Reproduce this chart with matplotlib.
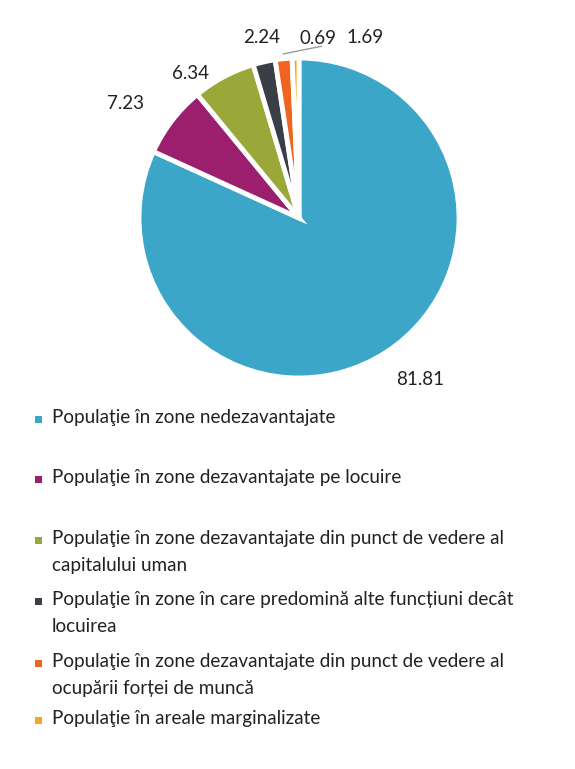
import matplotlib
matplotlib.use("Agg")
import matplotlib.pyplot as plt
from matplotlib.patches import Rectangle
import numpy as np

plt.rcParams['font.family'] = ['Lato', 'DejaVu Sans']

categories = [
    "Populaţie în zone nedezavantajate",
    "Populaţie în zone dezavantajate pe locuire",
    "Populaţie în zone dezavantajate din punct de vedere al\ncapitalului uman",
    "Populaţie în zone în care predomină alte funcțiuni decât\nlocuirea",
    "Populaţie în zone dezavantajate din punct de vedere al\nocupării forței de muncă",
    "Populaţie în areale marginalizate",
]
values = [81.81, 7.23, 6.34, 2.24, 1.69, 0.69]
value_labels = ["81.81", "7.23", "6.34", "2.24", "1.69", "0.69"]
colors = ["#3BA6C8", "#9C1F6D", "#9AA83A", "#3A3E47", "#EF6420", "#F5A51E"]

# label placement (polar: radius factor, angle in degrees) - layout only
label_pos = [(1.26, -53), (1.30, 146.5), (1.13, 127), (1.15, 101.6), (1.20, 70), (1.13, 84)]

fig = plt.figure(figsize=(5.75, 7.69), dpi=100)
ax = fig.add_axes([0.1026, 0.4044, 0.8348, 0.5826])
wedges, _ = ax.pie(values, colors=colors, startangle=90, counterclock=False,
                   wedgeprops=dict(edgecolor="white", linewidth=3.5))
ax.set_xlim(-1.5, 1.5)
ax.set_ylim(-1.5, 1.3)
ax.set_aspect('auto')
ax.axis('off')

for i, (lab, (r, a)) in enumerate(zip(value_labels, label_pos)):
    x, y = r * np.cos(np.radians(a)), r * np.sin(np.radians(a))
    if i == 4:
        w = wedges[i]
        mid = np.radians((w.theta1 + w.theta2) / 2)
        ax.annotate(lab, xy=(1.03 * np.cos(mid), 1.03 * np.sin(mid)), xytext=(x, y),
                    ha="center", va="center", fontsize=13.5, color="#222222",
                    arrowprops=dict(arrowstyle="-", color="#999999", lw=1,
                                    shrinkA=16, shrinkB=0))
    else:
        ax.text(x, y, lab, ha="center", va="center", fontsize=13.5, color="#222222")

# legend
ys = [419, 479, 540, 601, 663, 720]
H = 769.0
for c, lab, yp in zip(colors, categories, ys):
    fig.patches.append(Rectangle((35 / 575, (H - yp - 3.5) / H), 7 / 575, 7 / H,
                                 transform=fig.transFigure, facecolor=c, edgecolor="none"))
    fig.text(52 / 575, (H - yp + 10) / H, lab, ha="left", va="top", fontsize=13.6,
             color="#222222", linespacing=1.68)

fig.savefig("out.png", dpi=100, facecolor="white")
